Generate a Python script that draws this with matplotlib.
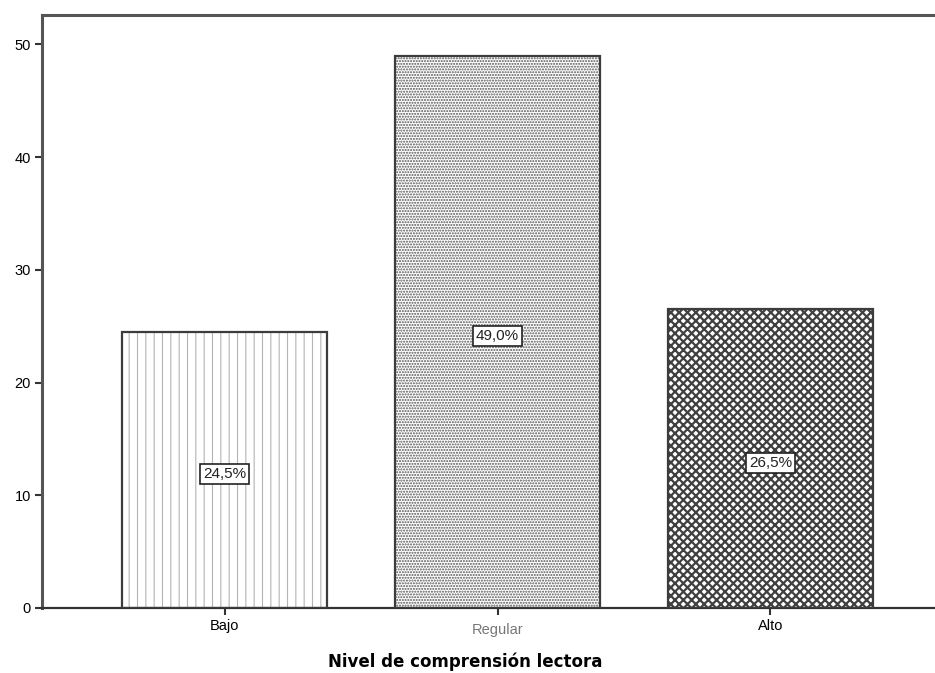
import matplotlib
matplotlib.use("Agg")
import matplotlib.pyplot as plt
import matplotlib.transforms as mtransforms

categories = ["Bajo", "Regular", "Alto"]
percentages = [24.5, 49.0, 26.5]
value_labels = ["24,5%", "49,0%", "26,5%"]
hatches = ["||", "......", "xxxx"]
hatch_colors = ["#b4b4b4", "#555555", "#404040"]
hatch_widths = [0.8, 1.0, 1.6]
yticks = [0, 10, 20, 30, 40, 50]

plt.rcParams['font.family'] = ['Liberation Sans', 'DejaVu Sans']

fig = plt.figure(figsize=(9.35, 6.73), dpi=100)
ax = fig.add_axes([0.0449, 0.0966, 0.96, 0.881])

x = list(range(len(categories)))
for i in x:
    with plt.rc_context({'hatch.linewidth': hatch_widths[i]}):
        ax.bar(x[i], percentages[i], width=0.75, color="white", hatch=hatches[i],
               edgecolor=hatch_colors[i], linewidth=0, zorder=2)
ax.bar(x, percentages, width=0.75, fill=False, edgecolor="#3c3c3c",
       linewidth=1.6, zorder=3)

for i in x:
    ax.text(x[i], percentages[i] / 2 - 0.4, value_labels[i], ha="center", va="center",
            fontsize=11, color="#222222", zorder=4,
            bbox=dict(boxstyle="square,pad=0.2", facecolor="white",
                      edgecolor="#222222", linewidth=1.2))

ax.set_xlim(-0.67, 2.62)
ax.set_ylim(0, 52.6)
ax.set_xticks(x)
ax.set_xticklabels(categories, fontsize=10.5)
ax.set_yticks(yticks)
ax.set_yticklabels([str(t) for t in yticks], fontsize=10.5)
ax.tick_params(axis="both", direction="out", length=5, width=1.5, color="#333333",
               pad=3)

labs = ax.get_xticklabels()
labs[1].set_color("#777777")
labs[1].set_transform(labs[1].get_transform() +
                      mtransforms.ScaledTranslation(0, -4 / 100, fig.dpi_scale_trans))

for side in ["left", "top"]:
    ax.spines[side].set_linewidth(2.2)
    ax.spines[side].set_color("#555555")
ax.spines["bottom"].set_linewidth(1.6)
ax.spines["bottom"].set_color("#333333")
ax.spines["right"].set_visible(False)

ax.set_xlabel("Nivel de comprensión lectora", fontsize=12, fontweight="bold",
              family=["DejaVu Sans"])
ax.xaxis.set_label_coords(0.472, -0.075)

fig.savefig("out.png", dpi=100)
